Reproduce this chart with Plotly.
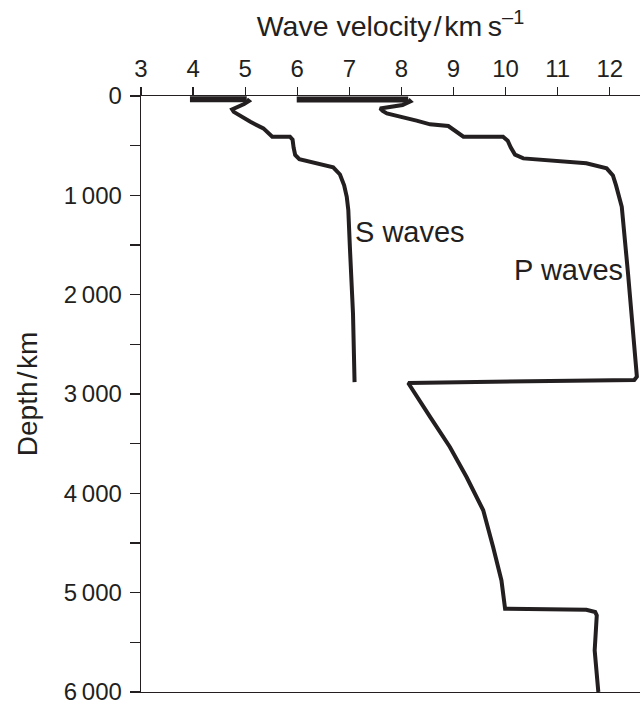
import plotly.graph_objects as go

# ---- data (velocity km/s, depth km) ----
s_crust_velocity = [3.94, 5.03]
s_crust_depth = [33, 33]
s_velocity = [5.03, 5.07, 4.98, 4.80, 4.75, 4.78, 4.87, 5.10, 5.35, 5.44, 5.52, 5.86, 5.91, 5.93, 5.96, 6.04, 6.35, 6.69, 6.82, 6.90, 6.95, 6.98, 7.01, 7.07, 7.10]
s_depth = [33, 50, 80, 115, 135, 160, 191, 260, 326, 376, 410, 410, 440, 520, 594, 635, 680, 719, 790, 900, 1014, 1149, 1518, 2190, 2880]

p_crust_velocity = [5.99, 8.13]
p_crust_depth = [35, 35]
p_velocity = [8.13, 8.17, 8.02, 7.65, 7.59, 7.64, 7.72, 8.29, 8.55, 8.90, 9.06, 9.19, 9.95, 10.04, 10.10, 10.18, 10.34, 10.91, 11.55, 11.94, 12.06, 12.12, 12.23, 12.35, 12.45, 12.51, 12.52, 12.47, 8.13, 8.55, 8.93, 9.25, 9.57, 9.76, 9.92, 9.99, 11.55, 11.72, 11.75, 11.71, 11.78]
p_depth = [35, 55, 90, 112, 125, 150, 175, 248, 285, 302, 359, 410, 410, 450, 520, 590, 628, 652, 678, 729, 800, 900, 1115, 1786, 2358, 2727, 2825, 2858, 2889, 3231, 3533, 3836, 4171, 4541, 4877, 5162, 5172, 5195, 5229, 5582, 6000]

x_ticks = [3, 4, 5, 6, 7, 8, 9, 10, 11, 12]
y_ticks = [0, 1000, 2000, 3000, 4000, 5000, 6000]
y_ticktext = ["0", "1\u2009000", "2\u2009000", "3\u2009000", "4\u2009000", "5\u2009000", "6\u2009000"]

ink = "#231f20"
font = "Liberation Sans, Arial, sans-serif"
x_range = [3, 12.58]

fig = go.Figure()
for xs, ys, w, xa in [(s_velocity, s_depth, 4, "x"), (p_velocity, p_depth, 4, "x"),
                      (s_crust_velocity, s_crust_depth, 6, "x2"),
                      (p_crust_velocity, p_crust_depth, 6, "x2")]:
    fig.add_trace(go.Scatter(x=xs, y=ys, mode="lines", xaxis=xa,
                             line=dict(color=ink, width=w), showlegend=False,
                             hoverinfo="skip", cliponaxis=False))

fig.add_annotation(x=7.07, y=1370, text="S waves", showarrow=False,
                   xanchor="left", yanchor="middle",
                   font=dict(family=font, size=29, color=ink))
fig.add_annotation(x=10.12, y=1753, text="P waves", showarrow=False,
                   xanchor="left", yanchor="middle",
                   font=dict(family=font, size=29, color=ink))

fig.update_layout(
    template="none",
    width=640, height=704,
    margin=dict(l=141, r=0, t=96, b=12, autoexpand=False),
    paper_bgcolor="white", plot_bgcolor="white",
    font=dict(family=font, color=ink),
    xaxis=dict(side="top", range=x_range, tickvals=x_ticks, automargin=False,
               ticks="outside", ticklen=8, tickwidth=1.2, tickcolor=ink,
               showline=True, linecolor=ink, linewidth=1.3, mirror=False,
               showgrid=False, zeroline=False,
               tickfont=dict(size=24, family=font, color=ink),
               title=dict(text="Wave velocity\u200a/\u200akm\u2009s<sup>\u20131</sup>",
                          font=dict(size=28.5, family=font, color=ink), standoff=10)),
    xaxis2=dict(side="bottom", overlaying="x", anchor="y", matches="x",
                range=x_range, automargin=False,
                showline=True, linecolor=ink, linewidth=1.3,
                ticks="", showticklabels=False, showgrid=False, zeroline=False),
    yaxis=dict(range=[6000, 0], tickvals=y_ticks, ticktext=y_ticktext, automargin=False,
               ticks="outside", ticklen=10, tickwidth=1.2, tickcolor=ink,
               ticklabelstandoff=3, ticklabeloverflow="allow",
               minor=dict(ticks="outside", dtick=500, ticklen=10, tickwidth=1.2, tickcolor=ink),
               showline=True, linecolor=ink, linewidth=1.3, mirror=False,
               showgrid=False, zeroline=False,
               tickfont=dict(size=24, family=font, color=ink),
               title=dict(text="Depth\u200a/\u200akm",
                          font=dict(size=28, family=font, color=ink), standoff=18)),
)

fig.write_html(
    "out.html",
    config={"displayModeBar": False, "staticPlot": True},
    post_script="document.body.style.margin='0';document.body.style.padding='0';"
                "document.body.style.overflow='hidden';",
)
